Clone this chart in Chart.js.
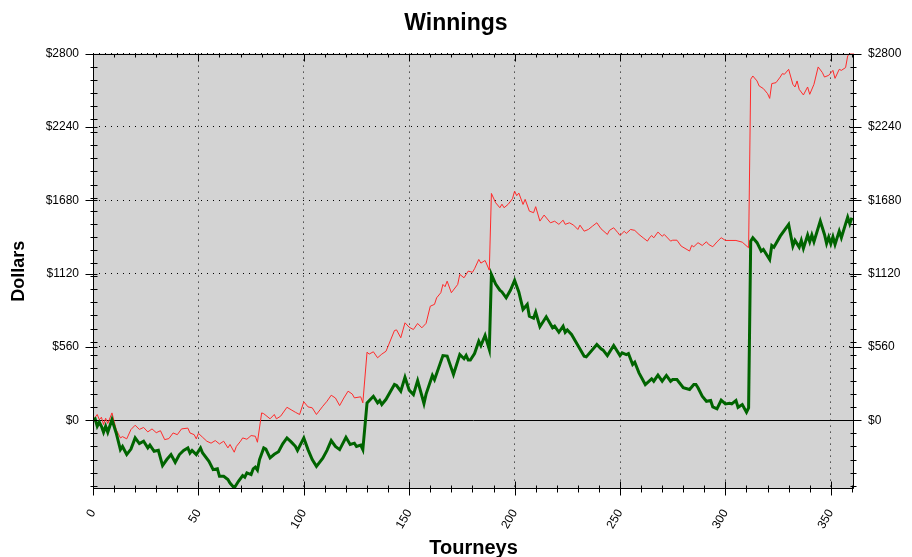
<!DOCTYPE html>
<html>
<head>
<meta charset="utf-8">
<script src="https://cdn.jsdelivr.net/npm/chart.js@4.4.0/dist/chart.umd.min.js"></script>
<style>
  html, body { margin: 0; padding: 0; background: #fff; }
  canvas { display: block; }
</style>
</head>
<body>
<canvas id="winningsChart" width="912" height="557"></canvas>
<script>
// values (tourney number -> dollars)
const totalTourney = [
    0, 2, 3, 4, 5, 6, 7, 9, 11, 13, 14, 16, 18, 20, 22, 24, 26, 28, 30, 32,
    34, 36, 38, 40, 42, 45, 46, 48, 49, 50, 52, 54, 56, 58, 60, 62, 64, 65, 67, 68,
    70, 71, 73, 75, 77, 78, 80, 81, 84, 86, 87, 89, 92, 94, 96, 98, 100, 102, 104, 106,
    109, 111, 113, 115, 117, 119, 121, 123, 124, 127, 128, 130, 131, 133, 135, 137, 139, 140, 143, 144,
    146, 148, 150, 152, 154, 156, 158, 160, 162, 163, 165, 166, 167, 168, 170, 173, 174, 176, 178, 180,
    181, 183, 184, 186, 188, 189, 191, 193, 194, 195, 197, 199, 200, 201, 202, 204, 205, 207, 209, 210,
    212, 214, 217, 219, 221, 223, 224, 226, 228, 230, 231, 233, 235, 237, 239, 241, 244, 245, 247, 249,
    250, 252, 253, 255, 257, 259, 261, 263, 264, 265, 266, 268, 270, 271, 274, 275, 277, 279, 283, 284,
    285, 287, 289, 291, 292, 294, 296, 298, 300, 305, 308, 311, 312, 313, 315, 316, 318, 320, 321, 322,
    324, 326, 327, 328, 330, 332, 333, 334, 335, 337, 339, 340, 342, 344, 346, 347, 349, 351, 352, 354,
    355, 357, 358, 359, 361
];
const totalDollars = [
    0, 44, 5, 23, -33, 15, -25, 56, -71, -135, -125, -142, -71, -38, -70, -55, -89, -66, -95, -80,
    -148, -140, -97, -110, -66, -60, -97, -110, -142, -100, -130, -160, -175, -155, -181, -160, -211, -185, -244, -200,
    -160, -135, -145, -117, -122, -168, 56, 50, 11, 44, 11, 31, 99, 80, 61, 44, 141, 102, 95, 44,
    107, 145, 191, 170, 112, 170, 222, 200, 171, 179, 133, 520, 505, 523, 477, 505, 527, 566, 685, 690,
    630, 744, 710, 693, 739, 706, 740, 871, 885, 935, 974, 1037, 1020, 1062, 974, 1037, 1114, 1088, 1139, 1130,
    1157, 1228, 1200, 1220, 1146, 1732, 1661, 1623, 1650, 1623, 1650, 1692, 1750, 1715, 1735, 1648, 1687, 1597, 1585, 1631,
    1521, 1567, 1508, 1520, 1496, 1528, 1496, 1508, 1490, 1457, 1490, 1444, 1457, 1483, 1508, 1462, 1419, 1450, 1470, 1432,
    1411, 1443, 1427, 1457, 1450, 1419, 1393, 1368, 1393, 1411, 1393, 1437, 1405, 1419, 1368, 1375, 1375, 1330, 1292, 1335,
    1325, 1356, 1335, 1363, 1343, 1325, 1362, 1394, 1373, 1373, 1360, 1317, 2604, 2629, 2591, 2553, 2533, 2494, 2458, 2571,
    2578, 2621, 2647, 2642, 2680, 2565, 2545, 2591, 2527, 2484, 2545, 2489, 2565, 2698, 2655, 2621, 2634, 2672, 2611, 2680,
    2672, 2693, 2782, 2800, 2800
];

const netTourney = [
    0, 1, 2, 3, 4, 5, 6, 7, 9, 11, 13, 14, 16, 18, 20, 22, 24, 26, 27, 29,
    31, 33, 35, 37, 39, 41, 43, 45, 46, 47, 49, 51, 52, 55, 57, 59, 60, 62, 64, 65,
    67, 69, 71, 72, 73, 75, 76, 77, 78, 79, 81, 82, 84, 86, 88, 90, 92, 94, 96, 97,
    100, 102, 104, 106, 109, 111, 113, 115, 117, 120, 122, 124, 125, 127, 128, 130, 133, 135, 136, 137,
    139, 143, 144, 146, 148, 150, 152, 154, 157, 158, 161, 162, 166, 168, 171, 174, 176, 177, 178, 179,
    181, 183, 184, 186, 188, 189, 191, 193, 194, 196, 198, 200, 202, 204, 206, 207, 209, 210, 212, 215,
    218, 219, 221, 223, 224, 225, 227, 233, 234, 239, 241, 242, 244, 247, 250, 251, 253, 254, 256, 257,
    259, 262, 265, 266, 268, 270, 272, 274, 275, 277, 280, 283, 285, 286, 287, 289, 291, 293, 294, 296,
    298, 300, 302, 303, 305, 306, 308, 310, 311, 312, 313, 315, 317, 318, 321, 322, 323, 326, 330, 332,
    333, 335, 336, 337, 339, 340, 341, 342, 345, 347, 348, 349, 350, 351, 352, 354, 355, 358, 359, 360
];
const netDollars = [
    0, 10, -46, -15, -46, -92, -46, -92, 5, -97, -224, -200, -262, -220, -135, -178, -160, -211, -190, -237,
    -230, -346, -300, -262, -321, -262, -230, -211, -250, -230, -262, -211, -250, -313, -377, -370, -428, -428, -453, -480,
    -517, -466, -423, -435, -402, -415, -371, -358, -380, -300, -211, -220, -287, -260, -240, -180, -135, -165, -199, -230,
    -135, -224, -300, -352, -290, -230, -155, -200, -224, -130, -185, -175, -200, -190, -224, 133, 183, 133, 150, 120,
    160, 273, 265, 222, 329, 230, 196, 303, 128, 200, 342, 310, 494, 490, 349, 502, 470, 495, 460, 460,
    510, 604, 570, 647, 540, 1113, 1040, 993, 980, 935, 993, 1068, 980, 846, 884, 795, 780, 825, 714, 790,
    706, 718, 672, 718, 672, 690, 655, 489, 484, 579, 545, 535, 494, 571, 494, 515, 502, 510, 426, 443,
    362, 273, 316, 298, 344, 298, 342, 298, 311, 311, 248, 235, 273, 273, 248, 183, 145, 151, 102, 87,
    153, 125, 130, 125, 151, 99, 120, 61, 95, 1368, 1394, 1356, 1292, 1305, 1228, 1335, 1322, 1406, 1496, 1330,
    1373, 1322, 1373, 1312, 1414, 1363, 1414, 1363, 1521, 1419, 1350, 1399, 1348, 1401, 1343, 1444, 1394, 1551, 1501, 1547
];

const xTickValues = [0, 50, 100, 150, 200, 250, 300, 350];
const yTickValues = [0, 560, 1120, 1680, 2240, 2800];
const xRange = [0, 361];
const yRange = [-525, 2800];

Chart.defaults.font.family = '"Liberation Sans", Arial, sans-serif';
Chart.defaults.color = '#000';

const toPoints = (xs, ys) => xs.map((x, i) => ({ x: x, y: ys[i] }));

// grey plot background, solid zero line, frame and the small tick marks on all four sides
const plotFrame = {
    id: 'plotFrame',
    beforeDraw(chart) {
        const { ctx, chartArea: a } = chart;
        ctx.save();
        ctx.fillStyle = '#d3d3d3';
        ctx.fillRect(a.left, a.top, a.right - a.left, a.bottom - a.top);
        ctx.restore();
    },
    beforeDatasetsDraw(chart) {
        const { ctx, chartArea: a, scales } = chart;
        const py = Math.round(scales.y.getPixelForValue(0)) + 0.5;
        ctx.save();
        ctx.strokeStyle = '#000';
        ctx.lineWidth = 1;
        ctx.beginPath();
        ctx.moveTo(a.left, py);
        ctx.lineTo(a.right, py);
        ctx.stroke();
        ctx.restore();
    },
    afterDraw(chart) {
        const { ctx, chartArea: a, scales } = chart;
        const x = scales.x, y = scales.y;
        const L = Math.round(a.left) + 0.5, R = Math.round(a.right) - 0.5;
        const T = Math.round(a.top) + 0.5, B = Math.round(a.bottom) - 0.5;
        ctx.save();
        ctx.strokeStyle = '#000';
        ctx.lineWidth = 1;
        ctx.beginPath();
        ctx.rect(L, T, R - L, B - T);
        const seg = (x1, y1, x2, y2) => { ctx.moveTo(x1, y1); ctx.lineTo(x2, y2); };

        for (let v = 0; v <= x.max; v += 10) {
            const px = Math.round(x.getPixelForValue(v)) + 0.5;
            const major = v % 50 === 0;
            seg(px, B - (major ? 7 : 3), px, B + (major ? 7 : 4));
            seg(px, T, px, T + (major ? 7 : 3));
        }
        for (let v = Math.ceil(y.min / 100) * 100; v <= y.max; v += 100) {
            const py = Math.round(y.getPixelForValue(v)) + 0.5;
            seg(L - 3, py, L + 4, py);
            seg(R - 3, py, R + 3, py);
        }
        yTickValues.forEach(v => {
            const py = Math.round(y.getPixelForValue(v)) + 0.5;
            seg(L - 8, py, L + 4, py);
            seg(R - 4, py, R + 8, py);
        });
        ctx.stroke();
        ctx.restore();
    }
};

const dottedGrid = {
    color: ctx => (ctx.tick && ctx.tick.value === 0 ? 'transparent' : '#000'),
    lineWidth: 1,
    tickLength: 8,
    tickColor: 'transparent'
};

const setYTicks = s => { s.ticks = yTickValues.map(v => ({ value: v })); };

new Chart(document.getElementById('winningsChart'), {
    type: 'line',
    data: {
        datasets: [
            {
                label: 'Net',
                data: toPoints(netTourney, netDollars),
                borderColor: '#006400',
                borderWidth: 3,
                pointRadius: 0,
                tension: 0
            },
            {
                label: 'Total',
                data: toPoints(totalTourney, totalDollars),
                borderColor: '#ff2a2a',
                borderWidth: 1,
                pointRadius: 0,
                tension: 0
            }
        ]
    },
    options: {
        responsive: false,
        animation: false,
        devicePixelRatio: 1,
        layout: { padding: 0 },
        plugins: {
            legend: { display: false },
            tooltip: { enabled: false },
            title: {
                display: true,
                text: 'Winnings',
                color: '#000',
                font: { size: 23, weight: 'bold' },
                padding: { top: 10, bottom: 16 }
            }
        },
        scales: {
            x: {
                type: 'linear',
                min: xRange[0],
                max: xRange[1],
                afterBuildTicks: s => { s.ticks = xTickValues.map(v => ({ value: v })); },
                afterFit: s => { s.height = 68; },
                ticks: {
                    autoSkip: false,
                    minRotation: 60,
                    maxRotation: 60,
                    padding: 10,
                    font: { size: 12 },
                    callback: v => String(v)
                },
                grid: dottedGrid,
                border: { display: false, dash: [1, 5] },
                title: {
                    display: true,
                    text: 'Tourneys',
                    font: { size: 20, weight: 'bold' },
                    padding: { top: 0, bottom: -3 }
                }
            },
            y: {
                position: 'left',
                min: yRange[0],
                max: yRange[1],
                afterBuildTicks: setYTicks,
                afterFit: s => { s.width = 93; },
                ticks: {
                    padding: 6,
                    font: { size: 12 },
                    callback: v => '$' + v
                },
                grid: dottedGrid,
                border: { display: false, dash: [1, 5] },
                title: {
                    display: true,
                    text: 'Dollars',
                    font: { size: 18, weight: 'bold' },
                    padding: { top: 8, bottom: 0 }
                }
            },
            y2: {
                position: 'right',
                min: yRange[0],
                max: yRange[1],
                afterBuildTicks: setYTicks,
                afterFit: s => { s.width = 58; },
                ticks: {
                    padding: 6,
                    font: { size: 12 },
                    callback: v => '$' + v
                },
                grid: { drawOnChartArea: false, tickLength: 8, tickColor: 'transparent' },
                border: { display: false }
            }
        }
    },
    plugins: [plotFrame]
});
</script>
</body>
</html>
